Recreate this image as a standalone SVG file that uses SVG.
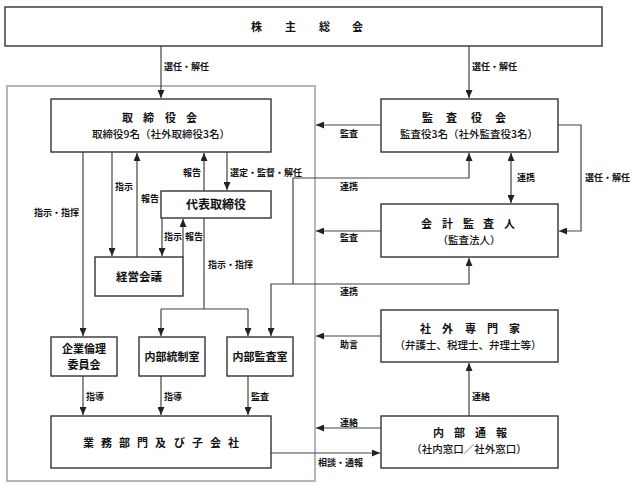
<svg xmlns="http://www.w3.org/2000/svg" width="643" height="488" viewBox="0 0 643 488">
<defs>
<marker id="ah" viewBox="0 0 8 7" refX="8" refY="3.5" markerWidth="8" markerHeight="7" markerUnits="userSpaceOnUse" orient="auto-start-reverse">
<path d="M0,0 L8,3.5 L0,7 z" fill="#222"/>
</marker>
<style>
.box{fill:#fff;stroke:#333;stroke-width:1.4}
.frame{fill:none;stroke:#b5b5b5;stroke-width:2}
.ln{fill:none;stroke:#444;stroke-width:1.2}
.t{font-family:"Noto Sans CJK JP","Noto Sans CJK SC",sans-serif;font-weight:bold;fill:#111;font-size:11px}
.n{font-weight:500;font-size:10.5px}
.c{text-anchor:middle}
.s{font-family:"Noto Sans CJK JP","Noto Sans CJK SC",sans-serif;font-weight:bold;fill:#111;font-size:9px}
.e{text-anchor:end}
</style>
</defs>
<rect class="frame" x="7" y="86" width="308" height="395"/>

<g id="connectors">
<line class="ln" x1="161" y1="46" x2="161" y2="98" marker-end="url(#ah)"/>
<line class="ln" x1="469" y1="46" x2="469" y2="98" marker-end="url(#ah)"/>
<line class="ln" x1="83" y1="152" x2="83" y2="336" marker-end="url(#ah)"/>
<line class="ln" x1="112" y1="152" x2="112" y2="256" marker-end="url(#ah)"/>
<line class="ln" x1="137" y1="257" x2="137" y2="153" marker-end="url(#ah)"/>
<line class="ln" x1="204" y1="191" x2="204" y2="153" marker-end="url(#ah)"/>
<line class="ln" x1="227" y1="152" x2="227" y2="190" marker-end="url(#ah)"/>
<line class="ln" x1="162" y1="218" x2="162" y2="256" marker-end="url(#ah)"/>
<line class="ln" x1="183" y1="257" x2="183" y2="219" marker-end="url(#ah)"/>
<path class="ln" d="M204,218 V309"/>
<path class="ln" d="M161,309 H248"/>
<line class="ln" x1="161" y1="309" x2="161" y2="336" marker-end="url(#ah)"/>
<line class="ln" x1="248" y1="309" x2="248" y2="336" marker-end="url(#ah)"/>
<path class="ln" d="M293,284 V178 H469 V153" marker-end="url(#ah)"/>
<path class="ln" d="M271,336 V284 H469 V258" marker-start="url(#ah)" marker-end="url(#ah)"/>
<line class="ln" x1="381" y1="125" x2="316" y2="125" marker-end="url(#ah)"/>
<line class="ln" x1="381" y1="231" x2="316" y2="231" marker-end="url(#ah)"/>
<line class="ln" x1="381" y1="336" x2="316" y2="336" marker-end="url(#ah)"/>
<line class="ln" x1="381" y1="428" x2="316" y2="428" marker-end="url(#ah)"/>
<line class="ln" x1="271" y1="453" x2="380" y2="453" marker-end="url(#ah)"/>
<line class="ln" x1="511" y1="153" x2="511" y2="203" marker-start="url(#ah)" marker-end="url(#ah)"/>
<path class="ln" d="M558,125 H581 V231 H559" marker-end="url(#ah)"/>
<line class="ln" x1="469" y1="416" x2="469" y2="363" marker-end="url(#ah)"/>
<line class="ln" x1="83" y1="376" x2="83" y2="415" marker-end="url(#ah)"/>
<line class="ln" x1="161" y1="376" x2="161" y2="415" marker-end="url(#ah)"/>
<line class="ln" x1="248" y1="376" x2="248" y2="415" marker-end="url(#ah)"/>

<text class="s" x="164" y="70">選任・解任</text>
<text class="s" x="472" y="70">選任・解任</text>
<text class="s e" x="79" y="216">指示・指揮</text>
<text class="s" x="115" y="190">指示</text>
<text class="s" x="141" y="202">報告</text>
<text class="s e" x="201" y="176">報告</text>
<text class="s" x="230" y="176">選定・監督・解任</text>
<text class="s" x="164" y="240">指示</text>
<text class="s" x="185" y="240">報告</text>
<text class="s" x="208" y="268">指示・指揮</text>
<text class="s" x="340" y="190">連携</text>
<text class="s" x="340" y="295">連携</text>
<text class="s" x="340" y="137">監査</text>
<text class="s" x="340" y="241">監査</text>
<text class="s" x="340" y="348">助言</text>
<text class="s" x="340" y="426">連絡</text>
<text class="s" x="318" y="466">相談・通報</text>
<text class="s" x="517" y="181">連携</text>
<text class="s" x="585" y="181">選任・解任</text>
<text class="s" x="472" y="400">連絡</text>
<text class="s" x="86" y="400">指導</text>
<text class="s" x="164" y="400">指導</text>
<text class="s" x="251" y="400">監査</text>
</g>

<g id="shareholders">
<rect class="box" x="5" y="7" width="597" height="39"/>
<text class="t" x="251 285 319 352" y="31">株主総会</text>
</g>
<g id="board">
<rect class="box" x="51" y="99" width="220" height="53"/>
<text class="t" x="122 143 165 186" y="122">取締役会</text>
<text class="t n c" x="161" y="138">取締役9名（社外取締役3名）</text>
</g>
<g id="auditors-board">
<rect class="box" x="381" y="99" width="177" height="53"/>
<text class="t" x="422 446 471 495" y="122">監査役会</text>
<text class="t n c" x="469" y="138">監査役3名（社外監査役3名）</text>
</g>
<g id="representative">
<rect class="box" x="161" y="191" width="110" height="27"/>
<text class="t c" x="216" y="209" style="font-size:12px">代表取締役</text>
</g>
<g id="management-meeting">
<rect class="box" x="95" y="257" width="88" height="39"/>
<text class="t c" x="139" y="281" style="font-size:11.5px">経営会議</text>
</g>
<g id="accounting-auditor">
<rect class="box" x="381" y="204" width="177" height="53"/>
<text class="t" x="421 442 463 483 504" y="228">会計監査人</text>
<text class="t n c" x="469" y="244">（監査法人）</text>
</g>
<g id="ethics-committee">
<rect class="box" x="51" y="337" width="66" height="39"/>
<text class="t c" x="84" y="353">企業倫理</text>
<text class="t c" x="84" y="369">委員会</text>
</g>
<g id="internal-control">
<rect class="box" x="139" y="337" width="66" height="39"/>
<text class="t c" x="172" y="361">内部統制室</text>
</g>
<g id="internal-audit">
<rect class="box" x="227" y="337" width="66" height="39"/>
<text class="t c" x="260" y="361">内部監査室</text>
</g>
<g id="outside-experts">
<rect class="box" x="381" y="310" width="177" height="52"/>
<text class="t" x="420 442 465 487 509" y="333">社外専門家</text>
<text class="t n c" x="468" y="349">（弁護士、税理士、弁理士等）</text>
</g>
<g id="business-units">
<rect class="box" x="51" y="416" width="220" height="52"/>
<text class="t" x="83 101 119 137 155 174 192 210 228" y="447">業務部門及び子会社</text>
</g>
<g id="whistleblowing">
<rect class="box" x="381" y="416" width="177" height="52"/>
<text class="t" x="433 454 475 496" y="437">内部通報</text>
<text class="t n c" x="469" y="453">（社内窓口／社外窓口）</text>
</g>
</svg>
